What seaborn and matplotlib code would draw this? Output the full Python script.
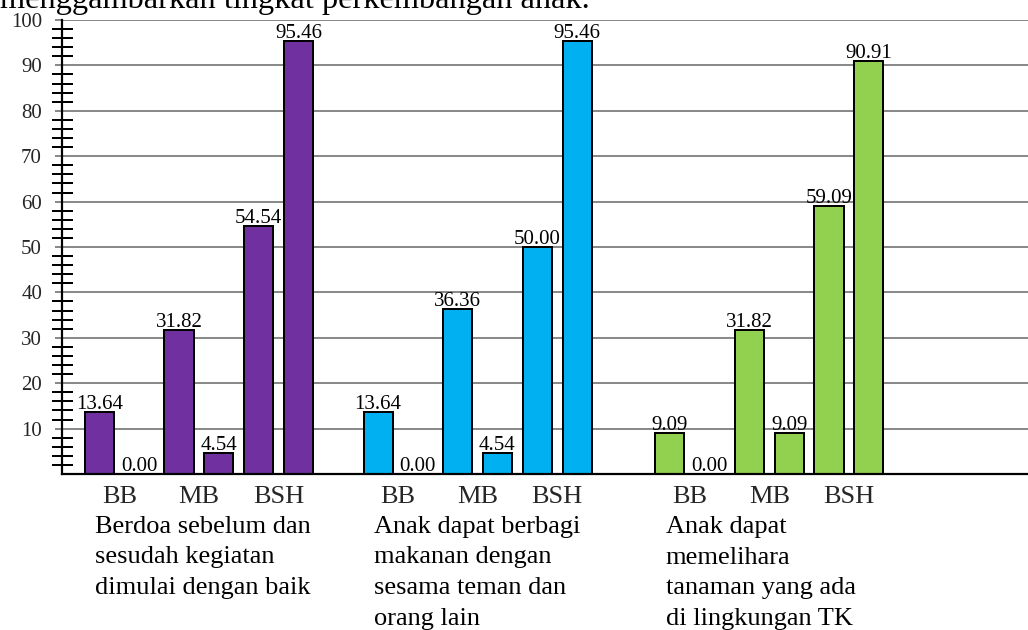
import numpy as np
import pandas as pd
import matplotlib
matplotlib.use("Agg")
import matplotlib.pyplot as plt
import matplotlib.transforms as mtransforms
import seaborn as sns

# ---------------- data ----------------
title_text = "menggambarkan tingkat perkembangan anak."
categories = ["BB", "MB", "BSH"]
indicators = [
    "Berdoa sebelum dan\nsesudah kegiatan\ndimulai dengan baik",
    "Anak dapat berbagi\nmakanan dengan\nsesama teman dan\norang lain",
    "Anak dapat\nmemelihara\ntanaman yang ada\ndi lingkungan TK",
]
# values per indicator: [BB, MB, BSH] for the first and second cycle
cycle1_berdoa = [13.64, 31.82, 54.54]
cycle2_berdoa = [0.00, 4.54, 95.46]
cycle1_berbagi = [13.64, 36.36, 50.00]
cycle2_berbagi = [0.00, 4.54, 95.46]
cycle1_memelihara = [9.09, 31.82, 59.09]
cycle2_memelihara = [0.00, 9.09, 90.91]
colors = ["#7030A0", "#00B0F0", "#92D050"]
y_ticks = [10, 20, 30, 40, 50, 60, 70, 80, 90, 100]

# ---------------- layout ----------------
GROUP_START = [0.0, 7.0, 14.33]   # slot offsets of each indicator block
cycles = [(cycle1_berdoa, cycle2_berdoa),
          (cycle1_berbagi, cycle2_berbagi),
          (cycle1_memelihara, cycle2_memelihara)]

rows = []
for gi, (c1, c2) in enumerate(cycles):
    for ci, cat in enumerate(categories):
        for k, vals in enumerate((c1, c2)):
            rows.append(dict(group=gi, cat=cat, cycle=k,
                             pos=GROUP_START[gi] + 2 * ci + k,
                             value=vals[ci]))
df = pd.DataFrame(rows)

sns.set_theme(style="white")
plt.rcParams["font.family"] = ["Liberation Serif", "DejaVu Serif"]

W, H = 1028, 630
PX = 72 / 100  # points per pixel
fig = plt.figure(figsize=(W / 100, H / 100), dpi=100)
ax_left, ax_right, ax_bottom, ax_top = 62, 1028, 474, 20
ax = fig.add_axes([ax_left / W, (H - ax_bottom) / H,
                   (ax_right - ax_left) / W, (ax_bottom - ax_top) / H])

sns.barplot(data=df, x="pos", y="value", hue="group",
            palette=colors, saturation=1, native_scale=True, dodge=False,
            width=0.73, edgecolor="black", linewidth=2 * PX,
            errorbar=None, legend=False, ax=ax, zorder=3)

ax.set_xlim(-0.94, 23.33)
ax.set_ylim(0, 100)

# grid & spines
ax.set_yticks(y_ticks)
ax.set_yticklabels([str(v) for v in y_ticks], fontsize=15)
ax.yaxis.grid(True, color="#8a8a8a", linewidth=2 * PX, zorder=0)
ax.set_axisbelow(True)
ax.set_yticks([v for v in range(2, 100, 2) if v % 10 != 0], minor=True)
ax.tick_params(axis="y", which="major", direction="out", length=7 * PX,
               width=2 * PX, color="#8a8a8a", pad=13 * PX, left=True)
ax.tick_params(axis="y", which="minor", direction="inout", length=21 * PX,
               width=2 * PX, color="black", left=True)
for s in ["top", "right"]:
    ax.spines[s].set_visible(False)
for s in ["left", "bottom"]:
    ax.spines[s].set_color("black")
    ax.spines[s].set_linewidth(2.2 * PX)
    ax.spines[s].set_zorder(4)

# category ticks at the centre of each pair
xt, xl = [], []
for gi in range(3):
    for ci, cat in enumerate(categories):
        xt.append(GROUP_START[gi] + 2 * ci + 0.5)
        xl.append(cat)
ax.set_xticks(xt)
ax.set_xticklabels(xl, fontsize=19)
ax.tick_params(axis="x", length=0, pad=12 * PX)
ax.set_xlabel("")
ax.set_ylabel("")

# value labels
for _, r in df.iterrows():
    ax.annotate(f"{r['value']:.2f}", (r["pos"], r["value"]),
                xytext=(0, 3 * PX), textcoords="offset points",
                ha="center", va="baseline", fontsize=15, color="black",
                zorder=5)

# indicator descriptions below the axis
trans = mtransforms.blended_transform_factory(ax.transData, fig.transFigure)
for gi, txt in enumerate(indicators):
    ax.text(GROUP_START[gi] - 0.1, (H - 516) / H, txt, transform=trans,
            ha="left", va="top", fontsize=19, linespacing=1.5,
            color="black")

# title line (cut by the top edge in the reference)
fig.text(0.0, (H - 8) / H, title_text, ha="left", va="baseline",
         fontsize=23.3, color="black")

fig.savefig("out.png", dpi=100)
